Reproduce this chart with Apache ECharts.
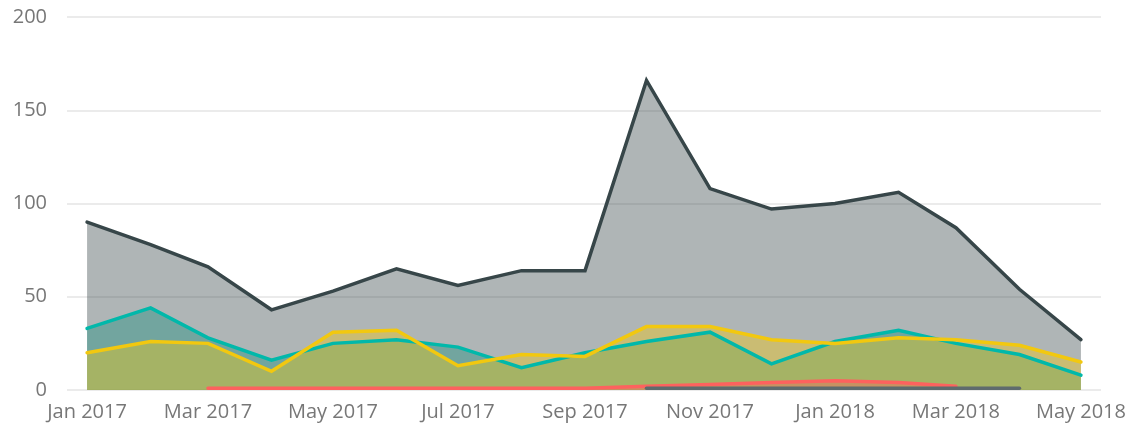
<!DOCTYPE html>
<html>
<head>
<meta charset="utf-8">
<script src="https://cdn.jsdelivr.net/npm/echarts@6/dist/echarts.min.js"></script>
<style>
html,body{margin:0;padding:0;background:#fff;}
#chart{width:1134px;height:428px;}
</style>
</head>
<body>
<div id="chart"></div>
<script>
// ---- data ----
const months = ['2017-01','2017-02','2017-03','2017-04','2017-05','2017-06','2017-07','2017-08','2017-09',
                '2017-10','2017-11','2017-12','2018-01','2018-02','2018-03','2018-04','2018-05'];
const totalValues  = [90, 78, 66, 43, 53, 65, 56, 64, 64, 166, 108, 97, 100, 106, 87, 54, 27];
const tealValues   = [33, 44, 28, 16, 25, 27, 23, 12, 20, 26, 31, 14, 26, 32, 25, 19, 8];
const yellowValues = [20, 26, 25, 10, 31, 32, 13, 19, 18, 34, 34, 27, 25, 28, 27, 24, 15];
const redValues    = [null, null, 1, 1, 1, 1, 1, 1, 1, 2, 3, 4, 5, 4, 2, null, null];
const greyValues   = [null, null, null, null, null, null, null, null, null, 1, 1, 1, 1, 1, 1, 1, null];
const tickMonths = ['2017-01','2017-03','2017-05','2017-07','2017-09','2017-11','2018-01','2018-03','2018-05'];
const tickLabels = ['Jan 2017','Mar 2017','May 2017','Jul 2017','Sep 2017','Nov 2017','Jan 2018','Mar 2018','May 2018'];
const yTicks = [0, 50, 100, 150, 200];

// ---- helpers ----
// x is measured in days since 2017-01-01 (time-proportional axis)
const ORIGIN = Date.UTC(2017, 0, 1);
function dayOf(m){ const p = m.split('-'); return (Date.UTC(+p[0], +p[1]-1, 1) - ORIGIN) / 86400000; }
function pts(vals){ return months.map((m,i)=>[dayOf(m), vals[i]]); }
const xMin = dayOf(months[0]) - 9.8;
const xMax = dayOf(months[months.length-1]) + 9.8;
const tickDays = tickMonths.map(dayOf);

const seriesDefs = [
  {name:'Total',  vals: totalValues,  line:'#374649', area:'#374649'},
  {name:'Teal',   vals: tealValues,   line:'#01B8AA', area:'#168e7c'},
  {name:'Yellow', vals: yellowValues, line:'#F2C80F', area:'#F2C80F'},
  {name:'Red',    vals: redValues,    line:'#FD625E', area:'#FD625E'},
  {name:'Grey',   vals: greyValues,   line:'#5F6B6D', area:'#5F6B6D'}
];

const series = [];
seriesDefs.forEach((s)=>{
  series.push({
    name: s.name + ' area', type:'line', data: pts(s.vals), showSymbol:false, symbol:'none',
    lineStyle:{width:0, opacity:0}, areaStyle:{color:s.area, opacity:0.4}, z:1, silent:true,
    connectNulls:false
  });
});
seriesDefs.forEach((s)=>{
  series.push({
    name: s.name, type:'line', data: pts(s.vals), showSymbol:false, symbol:'none',
    lineStyle:{width:3.5, color:s.line, cap:'round', join:'miter'}, z:3,
    connectNulls:false
  });
});

const chart = echarts.init(document.getElementById('chart'), null, {renderer:'canvas'});
chart.setOption({
  animation:false,
  backgroundColor:'#fff',
  grid:{left:67, right:33, top:17, bottom:38, containLabel:false},
  xAxis:{
    type:'value', min:xMin, max:xMax,
    axisLine:{show:false}, axisTick:{show:false}, splitLine:{show:false},
    axisLabel:{
      customValues: tickDays,
      formatter:(v)=>{ const i = tickDays.indexOf(v); return i>=0 ? tickLabels[i] : ''; },
      color:'#777777', fontSize:20, fontFamily:'Open Sans', margin:12
    }
  },
  yAxis:{
    type:'value', min:0, max:200, interval:50,
    axisLine:{show:false}, axisTick:{show:false},
    splitLine:{show:true, lineStyle:{color:'#ebebeb', width:2}},
    axisLabel:{color:'#777777', fontSize:20, fontFamily:'Open Sans', margin:20,
      formatter:(v)=> yTicks.indexOf(v)>=0 ? String(v) : ''}
  },
  series: series
});
</script>
</body>
</html>
